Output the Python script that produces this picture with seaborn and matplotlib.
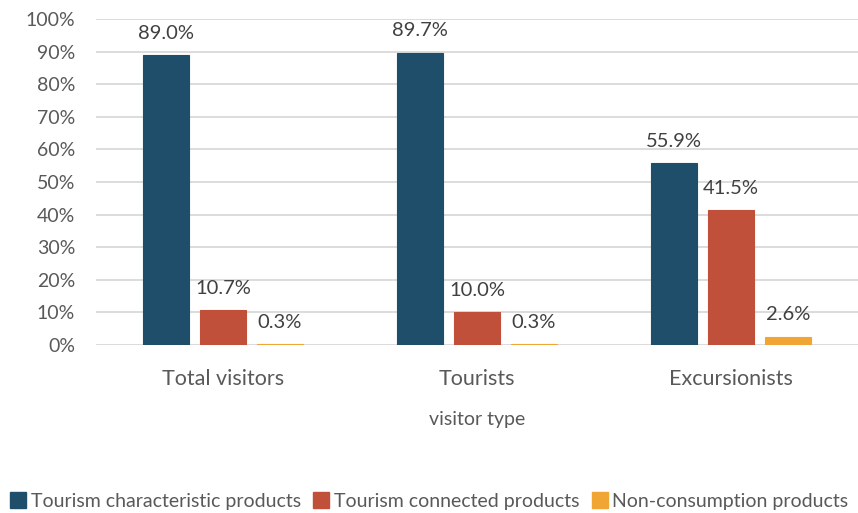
import matplotlib
matplotlib.use("Agg")
import matplotlib.pyplot as plt
import seaborn as sns
import pandas as pd
from matplotlib.lines import Line2D

visitor_types = ["Total visitors", "Tourists", "Excursionists"]
series_names = ["Tourism characteristic products",
                "Tourism connected products",
                "Non-consumption products"]
characteristic = [89.0, 89.7, 55.9]
connected = [10.7, 10.0, 41.5]
non_consumption = [0.3, 0.3, 2.6]
colors = ["#1F4E6B", "#C0503A", "#F0A535"]
y_ticks = [0, 10, 20, 30, 40, 50, 60, 70, 80, 90, 100]

rows = []
for name, vals in zip(series_names, [characteristic, connected, non_consumption]):
    for vt, v in zip(visitor_types, vals):
        rows.append({"visitor type": vt, "product": name, "share": v})
df = pd.DataFrame(rows)

sns.set_theme(style="white")
plt.rcParams["font.family"] = ["Lato", "DejaVu Sans"]

fig = plt.figure(figsize=(8.58, 5.13), dpi=100)
ax = fig.add_axes([96 / 858, 1 - 345 / 513, 762 / 858, (345 - 19) / 513])

sns.barplot(data=df, x="visitor type", y="share", hue="product",
            order=visitor_types, hue_order=series_names,
            palette=colors, width=0.673, gap=0.19, ax=ax,
            legend=False, errorbar=None, saturation=1,
            linewidth=0.8)

# thin outline in the fill colour keeps near-zero bars visible
for cont, c in zip(ax.containers, colors):
    for b in cont:
        b.set_edgecolor(c)
    ax.bar_label(cont, labels=[f"{b.get_height():.1f}%" for b in cont],
                 padding=9.5, fontsize=14.5, color="#404040")

ax.set_ylim(0, 100)
ax.set_xlim(-0.5, 2.5)
ax.set_yticks(y_ticks)
ax.set_yticklabels([f"{t}%" for t in y_ticks], fontsize=14, color="#595959")
ax.yaxis.grid(True, color="#D9D9D9", linewidth=1.3)
ax.set_axisbelow(True)
for s in ax.spines.values():
    s.set_visible(False)
ax.tick_params(axis="y", length=0, pad=15)
ax.tick_params(axis="x", length=0, pad=17, labelsize=15.5, labelcolor="#595959")
ax.set_ylabel("")
ax.set_xlabel("visitor type", fontsize=14, color="#595959", labelpad=16)

handles = [Line2D([0], [0], marker="s", linestyle="none", markersize=11,
                  markerfacecolor=c, markeredgecolor=c) for c in colors]
fig.legend(handles, series_names, loc="center", bbox_to_anchor=(0.5, 1 - 501 / 513),
           ncol=3, frameon=False, fontsize=14, handletextpad=0.2,
           columnspacing=0.6, labelcolor="#595959", handlelength=0.9)

fig.savefig("out.png", dpi=100)
